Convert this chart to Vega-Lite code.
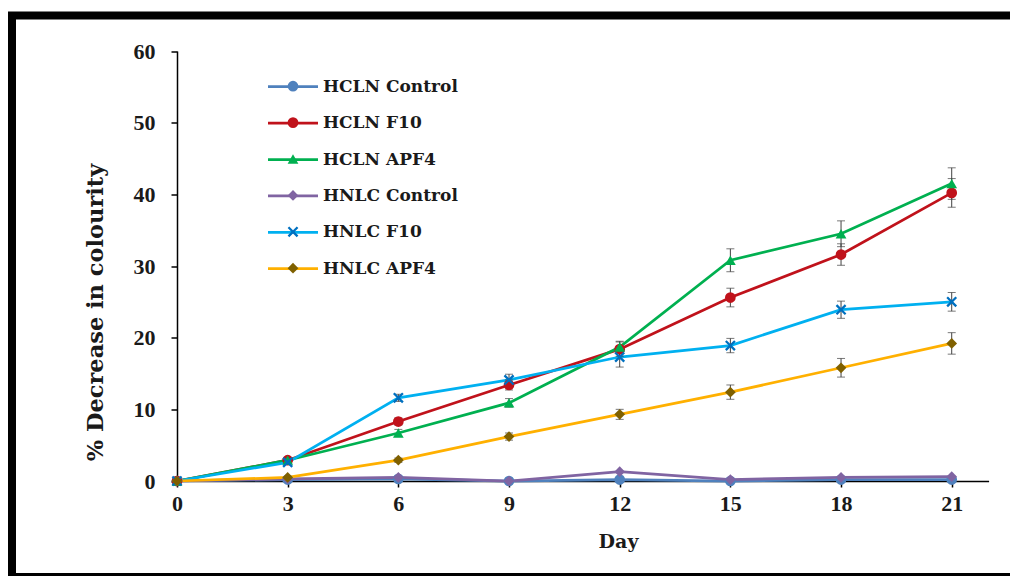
{
  "$schema": "https://vega.github.io/schema/vega-lite/v6.json",
  "width": 1003,
  "height": 561.5,
  "autosize": {"type": "none"},
  "padding": {"left": 12, "top": 15.5, "right": -5, "bottom": -1},
  "background": "white",
  "config": {
    "font": "Liberation Serif",
    "view": {"stroke": "black", "strokeWidth": 8}
  },
  "data": {
    "values": [
      {"series": "HCLN Control", "ord": 1, "day": 0, "value": 0, "err": 0},
      {"series": "HCLN Control", "ord": 1, "day": 3, "value": 0.2, "err": 0},
      {"series": "HCLN Control", "ord": 1, "day": 6, "value": 0.3, "err": 0},
      {"series": "HCLN Control", "ord": 1, "day": 9, "value": 0, "err": 0},
      {"series": "HCLN Control", "ord": 1, "day": 12, "value": 0.2, "err": 0},
      {"series": "HCLN Control", "ord": 1, "day": 15, "value": 0, "err": 0},
      {"series": "HCLN Control", "ord": 1, "day": 18, "value": 0.2, "err": 0},
      {"series": "HCLN Control", "ord": 1, "day": 21, "value": 0.2, "err": 0},
      {"series": "HCLN F10", "ord": 2, "day": 0, "value": 0, "err": 0},
      {"series": "HCLN F10", "ord": 2, "day": 3, "value": 2.9, "err": 0.3},
      {"series": "HCLN F10", "ord": 2, "day": 6, "value": 8.3, "err": 0.5},
      {"series": "HCLN F10", "ord": 2, "day": 9, "value": 13.4, "err": 0.7},
      {"series": "HCLN F10", "ord": 2, "day": 12, "value": 18.4, "err": 1.0},
      {"series": "HCLN F10", "ord": 2, "day": 15, "value": 25.6, "err": 1.3},
      {"series": "HCLN F10", "ord": 2, "day": 18, "value": 31.6, "err": 1.5},
      {"series": "HCLN F10", "ord": 2, "day": 21, "value": 40.2, "err": 2.0},
      {"series": "HCLN APF4", "ord": 3, "day": 0, "value": 0, "err": 0},
      {"series": "HCLN APF4", "ord": 3, "day": 3, "value": 2.9, "err": 0.3},
      {"series": "HCLN APF4", "ord": 3, "day": 6, "value": 6.7, "err": 0.5},
      {"series": "HCLN APF4", "ord": 3, "day": 9, "value": 10.9, "err": 0.6},
      {"series": "HCLN APF4", "ord": 3, "day": 12, "value": 18.7, "err": 0.8},
      {"series": "HCLN APF4", "ord": 3, "day": 15, "value": 30.8, "err": 1.6},
      {"series": "HCLN APF4", "ord": 3, "day": 18, "value": 34.5, "err": 1.8},
      {"series": "HCLN APF4", "ord": 3, "day": 21, "value": 41.5, "err": 2.2},
      {"series": "HNLC Control", "ord": 4, "day": 0, "value": 0, "err": 0},
      {"series": "HNLC Control", "ord": 4, "day": 3, "value": 0.3, "err": 0},
      {"series": "HNLC Control", "ord": 4, "day": 6, "value": 0.5, "err": 0},
      {"series": "HNLC Control", "ord": 4, "day": 9, "value": 0, "err": 0},
      {"series": "HNLC Control", "ord": 4, "day": 12, "value": 1.3, "err": 0},
      {"series": "HNLC Control", "ord": 4, "day": 15, "value": 0.2, "err": 0},
      {"series": "HNLC Control", "ord": 4, "day": 18, "value": 0.5, "err": 0},
      {"series": "HNLC Control", "ord": 4, "day": 21, "value": 0.6, "err": 0},
      {"series": "HNLC F10", "ord": 5, "day": 0, "value": 0, "err": 0},
      {"series": "HNLC F10", "ord": 5, "day": 3, "value": 2.6, "err": 0.2},
      {"series": "HNLC F10", "ord": 5, "day": 6, "value": 11.6, "err": 0.5},
      {"series": "HNLC F10", "ord": 5, "day": 9, "value": 14.1, "err": 0.8},
      {"series": "HNLC F10", "ord": 5, "day": 12, "value": 17.3, "err": 1.4},
      {"series": "HNLC F10", "ord": 5, "day": 15, "value": 18.9, "err": 1.0},
      {"series": "HNLC F10", "ord": 5, "day": 18, "value": 23.9, "err": 1.2},
      {"series": "HNLC F10", "ord": 5, "day": 21, "value": 25.0, "err": 1.3},
      {"series": "HNLC APF4", "ord": 6, "day": 0, "value": 0, "err": 0},
      {"series": "HNLC APF4", "ord": 6, "day": 3, "value": 0.5, "err": 0},
      {"series": "HNLC APF4", "ord": 6, "day": 6, "value": 2.9, "err": 0.3},
      {"series": "HNLC APF4", "ord": 6, "day": 9, "value": 6.2, "err": 0.5},
      {"series": "HNLC APF4", "ord": 6, "day": 12, "value": 9.3, "err": 0.7},
      {"series": "HNLC APF4", "ord": 6, "day": 15, "value": 12.4, "err": 1.0},
      {"series": "HNLC APF4", "ord": 6, "day": 18, "value": 15.8, "err": 1.3},
      {"series": "HNLC APF4", "ord": 6, "day": 21, "value": 19.2, "err": 1.5}
    ]
  },
  "encoding": {
    "x": {
      "field": "day",
      "type": "quantitative",
      "scale": {"domain": [0, 22], "range": [165, 976.6], "nice": false, "zero": false},
      "axis": {
        "title": "Day",
        "values": [0, 3, 6, 9, 12, 15, 18, 21],
        "offset": -96,
        "grid": false,
        "labelFlush": false,
        "domainColor": "black",
        "domainWidth": 1.5,
        "tickColor": "black",
        "tickWidth": 1.5,
        "tickSize": 6,
        "labelFont": "Liberation Serif",
        "labelFontSize": 22,
        "labelFontWeight": "bold",
        "labelColor": "#1a1a1a",
        "labelPadding": 6,
        "titleFont": "DejaVu Serif",
        "titleFontSize": 19,
        "titleFontWeight": "bold",
        "titleColor": "#1a1a1a",
        "titleX": 606,
        "titleY": 66,
        "titleBaseline": "alphabetic",
        "titleAlign": "center"
      }
    },
    "y": {
      "field": "value",
      "type": "quantitative",
      "scale": {"domain": [0, 60], "range": [465.5, 35.5], "nice": false, "zero": false},
      "axis": {
        "title": "% Decrease in colourity",
        "values": [0, 10, 20, 30, 40, 50, 60],
        "offset": -165,
        "grid": false,
        "labelFlush": false,
        "domainColor": "black",
        "domainWidth": 1.5,
        "tickColor": "black",
        "tickWidth": 1.5,
        "tickSize": 6,
        "labelFont": "Liberation Serif",
        "labelFontSize": 22,
        "labelFontWeight": "bold",
        "labelColor": "#1a1a1a",
        "labelPadding": 16,
        "titleFont": "DejaVu Serif",
        "titleFontSize": 22.5,
        "titleFontWeight": "bold",
        "titleColor": "#1a1a1a",
        "titleAngle": 270,
        "titleX": -75,
        "titleY": 296.5,
        "titleBaseline": "alphabetic",
        "titleAlign": "center"
      }
    }
  },
  "layer": [
    {
      "mark": {"type": "line", "strokeWidth": 2.75},
      "encoding": {
        "color": {
          "field": "series",
          "type": "nominal",
          "scale": {
            "domain": ["HCLN Control", "HCLN F10", "HCLN APF4", "HNLC Control", "HNLC F10", "HNLC APF4"],
            "range": ["#4F81BD", "#C0121B", "#00B050", "#8064A2", "#00B0F0", "#FFB000"]
          },
          "legend": {
            "title": null,
            "orient": "none",
            "legendX": 269.5,
            "legendY": 59.7,
            "padding": 0,
            "symbolType": "M-2.5,0H2.5",
            "symbolSize": 400,
            "symbolStrokeWidth": 2.75,
            "labelFont": "DejaVu Serif",
            "labelFontSize": 17,
            "labelFontWeight": "bold",
            "labelColor": "#1a1a1a",
            "labelOffset": 18.5,
            "labelLimit": 400,
            "rowPadding": 16.4
          }
        }
      }
    },
    {
      "transform": [{"filter": "datum.err > 0"}],
      "mark": {
        "type": "errorbar",
        "rule": {"color": "#404040", "strokeWidth": 1},
        "ticks": {"color": "#404040", "size": 8, "thickness": 1}
      },
      "encoding": {
        "yError": {"field": "err"}
      }
    },
    {
      "mark": {"type": "point", "filled": true, "size": 115, "opacity": 1},
      "encoding": {
        "fill": {
          "field": "series",
          "type": "nominal",
          "sort": {"field": "ord", "op": "min"},
          "scale": {"range": ["#4F81BD", "#C0121B", "#00B050", "#8064A2", "#0070C0", "#7F6000"]},
          "legend": {
            "title": null,
            "orient": "none",
            "legendX": 272.5,
            "legendY": 62.2,
            "padding": 0,
            "symbolSize": 115,
            "symbolStrokeWidth": 0,
            "symbolOpacity": 1,
            "labelFont": "DejaVu Serif",
            "labelFontWeight": "bold",
            "labelFontSize": 17,
            "labelOpacity": 0,
            "labelLimit": 400,
            "rowPadding": 18.4
          }
        },
        "shape": {
          "field": "series",
          "type": "nominal",
          "sort": {"field": "ord", "op": "min"},
          "scale": {"range": ["circle", "circle", "triangle-up", "diamond", "M-1,-0.7L-0.7,-1L0,-0.3L0.7,-1L1,-0.7L0.3,0L1,0.7L0.7,1L0,0.3L-0.7,1L-1,0.7L-0.3,0Z", "diamond"]},
          "legend": {
            "title": null,
            "orient": "none",
            "legendX": 272.5,
            "legendY": 62.2,
            "padding": 0,
            "symbolSize": 115,
            "symbolStrokeWidth": 0,
            "symbolOpacity": 1,
            "labelFont": "DejaVu Serif",
            "labelFontWeight": "bold",
            "labelFontSize": 17,
            "labelOpacity": 0,
            "labelLimit": 400,
            "rowPadding": 18.4
          }
        }
      }
    }
  ]
}
